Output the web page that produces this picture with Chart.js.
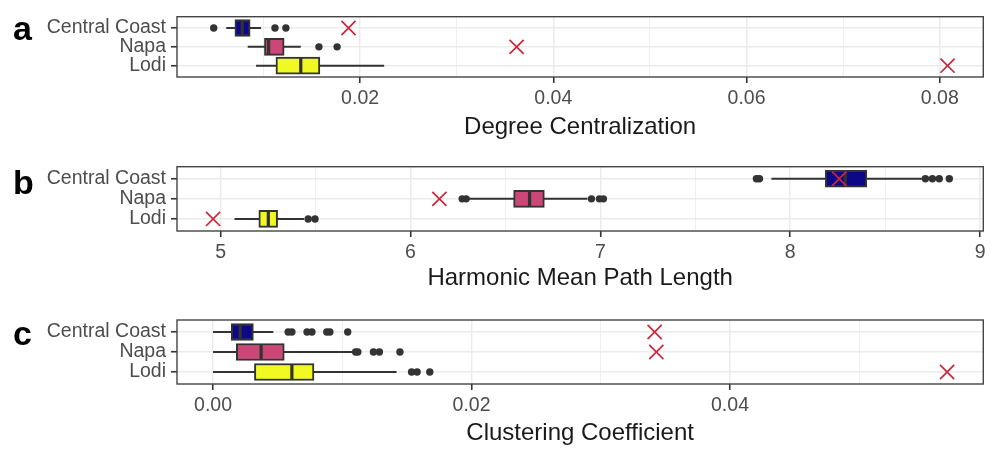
<!DOCTYPE html>
<html>
<head>
<meta charset="utf-8">
<script src="https://cdn.jsdelivr.net/npm/chart.js@4.4.1/dist/chart.umd.min.js"></script>
<style>
  html, body { margin: 0; padding: 0; background: #fff; }
  .panel { position: absolute; left: 0; width: 995px; height: 150px; }
</style>
</head>
<body>
<div class="panel" style="top:0px"><canvas id="panelA" width="995" height="150"></canvas></div>
<div class="panel" style="top:150px"><canvas id="panelB" width="995" height="150"></canvas></div>
<div class="panel" style="top:300px"><canvas id="panelC" width="995" height="150"></canvas></div>
<script>
// regions, top to bottom
var regions = ['Central Coast', 'Napa', 'Lodi'];
var regionColors = ['#0D0887', '#CC4678', '#F0F921'];

// a: degree centralization
var dcQ1 = [0.00704, 0.0101, 0.01129];
var dcMed = [0.0078, 0.01053, 0.01386];
var dcQ3 = [0.00862, 0.01214, 0.01584];
var dcLo = [0.00615, 0.00837, 0.00923];
var dcHi = [0.00975, 0.01386, 0.02249];
var dcOut = [[0.00485, 0.01119, 0.01232], [0.01574, 0.01762], []];
var dcObs = [0.0188, 0.0362, 0.0808];
var dcTicks = [0.02, 0.04, 0.06, 0.08];

// b: harmonic mean path length
var hmQ1 = [8.185, 6.543, 5.201];
var hmMed = [8.29, 6.627, 5.251];
var hmQ3 = [8.403, 6.705, 5.300];
var hmLo = [7.901, 6.304, 5.073];
var hmHi = [8.704, 6.932, 5.44];
var hmOut = [[7.822, 7.838, 8.712, 8.749, 8.785, 8.838], [6.272, 6.293, 6.953, 6.995, 7.016], [5.461, 5.497]];
var hmObs = [8.258, 6.152, 4.960];
var hmTicks = [5, 6, 7, 8, 9];

// c: clustering coefficient
var ccQ1 = [0.00141, 0.0018, 0.0032];
var ccMed = [0.0021, 0.00372, 0.0061];
var ccQ3 = [0.00312, 0.00551, 0.00781];
var ccLo = [0, 0, 0];
var ccHi = [0.00466, 0.01088, 0.0142];
var ccOut = [[0.00581, 0.0061, 0.00727, 0.00765, 0.0088, 0.00904, 0.01042], [0.01103, 0.0112, 0.01241, 0.01287, 0.01446], [0.01536, 0.01579, 0.01677]];
var ccObs = [0.03417, 0.0343, 0.0568];
var ccTicks = [0, 0.02, 0.04];

var FONT = '"Liberation Sans", Arial, Helvetica, sans-serif';

// panel border drawn over the plot, like ggplot's theme_bw
var framePlugin = {
  id: 'frame',
  afterDatasetsDraw: function(chart) {
    var a = chart.chartArea, ctx = chart.ctx;
    ctx.save();
    ctx.strokeStyle = '#444';
    ctx.lineWidth = 1.4;
    ctx.strokeRect(a.left, a.top, a.right - a.left, a.bottom - a.top);
    ctx.restore();
  }
};

// the bold letter at the top left of each panel
var tagPlugin = {
  id: 'panelTag',
  afterDraw: function(chart, args, opts) {
    var ctx = chart.ctx;
    ctx.save();
    ctx.font = 'bold 34px ' + FONT;
    ctx.fillStyle = '#000';
    ctx.textBaseline = 'alphabetic';
    ctx.fillText(opts.text, opts.x, opts.y);
    ctx.restore();
  }
};

function isMajor(majors, v) {
  return majors.some(function(m) { return Math.abs(m - v) < 1e-9; });
}

function makePanel(id, p) {
  var step = p.ticks[1] - p.ticks[0];
  var allTicks = [];
  p.ticks.forEach(function(v) {
    [v - step / 2, v, v + step / 2].forEach(function(t) {
      t = Math.round(t * 1e6) / 1e6;
      if (t >= p.min && t <= p.max && allTicks.indexOf(t) < 0) allTicks.push(t);
    });
  });
  allTicks.sort(function(a, b) { return a - b; });

  var datasets = [];
  datasets.push({
    type: 'scatter', label: 'observed', order: 0,
    data: p.obs.map(function(v, i) { return {x: v, y: i + 1}; }),
    pointStyle: 'crossRot', pointRadius: 10, pointBorderColor: '#c8283a',
    pointBorderWidth: 1.7, pointBackgroundColor: 'rgba(0,0,0,0)'
  });
  var outs = [];
  p.out.forEach(function(list, i) {
    list.forEach(function(v) { outs.push({x: v, y: i + 1}); });
  });
  datasets.push({
    type: 'scatter', label: 'outliers', order: 1, data: outs,
    pointRadius: 3.7, pointBackgroundColor: '#333', pointBorderWidth: 0
  });
  datasets.push({
    type: 'scatter', label: 'median', order: 2,
    data: p.med.map(function(v, i) { return {x: v, y: i + 1}; }),
    pointStyle: 'line', rotation: 90, pointRadius: 8,
    pointBorderColor: '#333', pointBorderWidth: 3.2
  });
  datasets.push({
    type: 'bar', label: 'box', order: 3, indexAxis: 'y',
    data: p.q1.map(function(v, i) { return {x: [v, p.q3[i]], y: i + 1}; }),
    backgroundColor: regionColors, borderColor: '#333', borderWidth: 2,
    borderSkipped: false, barThickness: 17
  });
  regions.forEach(function(r, i) {
    datasets.push({
      type: 'scatter', label: 'whisker ' + r, order: 4, showLine: true,
      data: [{x: p.lo[i], y: i + 1}, {x: p.hi[i], y: i + 1}],
      borderColor: '#333', borderWidth: 2, pointRadius: 0
    });
  });

  return new Chart(document.getElementById(id), {
    type: 'scatter',
    data: {datasets: datasets},
    plugins: [framePlugin, tagPlugin],
    options: {
      responsive: false,
      animation: false,
      events: [],
      layout: {padding: {top: p.top, right: 6, left: 0, bottom: 0}},
      plugins: {
        legend: {display: false},
        tooltip: {enabled: false},
        panelTag: {text: p.tag, x: 13, y: p.tagY}
      },
      scales: {
        x: {
          type: 'linear', min: p.min, max: p.max, offset: false,
          afterFit: function(s) { s.height = p.xHeight; },
          afterBuildTicks: function(s) {
            s.ticks = allTicks.map(function(v) { return {value: v}; });
          },
          border: {display: false},
          grid: {
            offset: false,
            color: '#ebebeb',
            lineWidth: function(c) { return c.tick && isMajor(p.ticks, c.tick.value) ? 1.5 : 0.8; },
            tickLength: 6,
            tickColor: function(c) { return c.tick && isMajor(p.ticks, c.tick.value) ? '#333' : 'rgba(0,0,0,0)'; },
            tickWidth: 1.6
          },
          ticks: {
            autoSkip: false, maxRotation: 0, padding: 4,
            color: '#4d4d4d', font: {family: FONT, size: 19.5},
            callback: function(v) { return isMajor(p.ticks, v) ? v.toFixed(p.dec) : ''; }
          },
          title: {
            display: true, text: p.title, color: '#1a1a1a',
            font: {family: FONT, size: 24, lineHeight: 1.2},
            padding: {top: 0, bottom: p.titlePad}
          }
        },
        y: {
          type: 'linear', min: 0.4, max: 3.6, reverse: true, offset: false,
          afterFit: function(s) { s.width = 177; },
          afterBuildTicks: function(s) {
            s.ticks = regions.map(function(r, i) { return {value: i + 1}; });
          },
          border: {display: false},
          grid: {offset: false, color: '#ebebeb', lineWidth: 1.5, tickLength: 6, tickColor: '#333', tickWidth: 1.6},
          ticks: {
            autoSkip: false, padding: 5, color: '#4d4d4d',
            font: {family: FONT, size: 19.5},
            callback: function(v) { return regions[Math.round(v) - 1]; }
          }
        }
      }
    }
  });
}

makePanel('panelA', {
  q1: dcQ1, med: dcMed, q3: dcQ3, lo: dcLo, hi: dcHi, out: dcOut, obs: dcObs,
  ticks: dcTicks, dec: 2, min: 0.00105, max: 0.0845,
  title: 'Degree Centralization', tag: 'a', tagY: 40,
  top: 12, xHeight: 73, titlePad: 8.6
});
makePanel('panelB', {
  q1: hmQ1, med: hmMed, q3: hmQ3, lo: hmLo, hi: hmHi, out: hmOut, obs: hmObs,
  ticks: hmTicks, dec: 0, min: 4.77, max: 9.017,
  title: 'Harmonic Mean Path Length', tag: 'b', tagY: 44,
  top: 15, xHeight: 69, titlePad: 7.6
});
makePanel('panelC', {
  q1: ccQ1, med: ccMed, q3: ccQ3, lo: ccLo, hi: ccHi, out: ccOut, obs: ccObs,
  ticks: ccTicks, dec: 2, min: -0.00279, max: 0.0596,
  title: 'Clustering Coefficient', tag: 'c', tagY: 45,
  top: 20, xHeight: 66, titlePad: 2.6
});
</script>
</body>
</html>
